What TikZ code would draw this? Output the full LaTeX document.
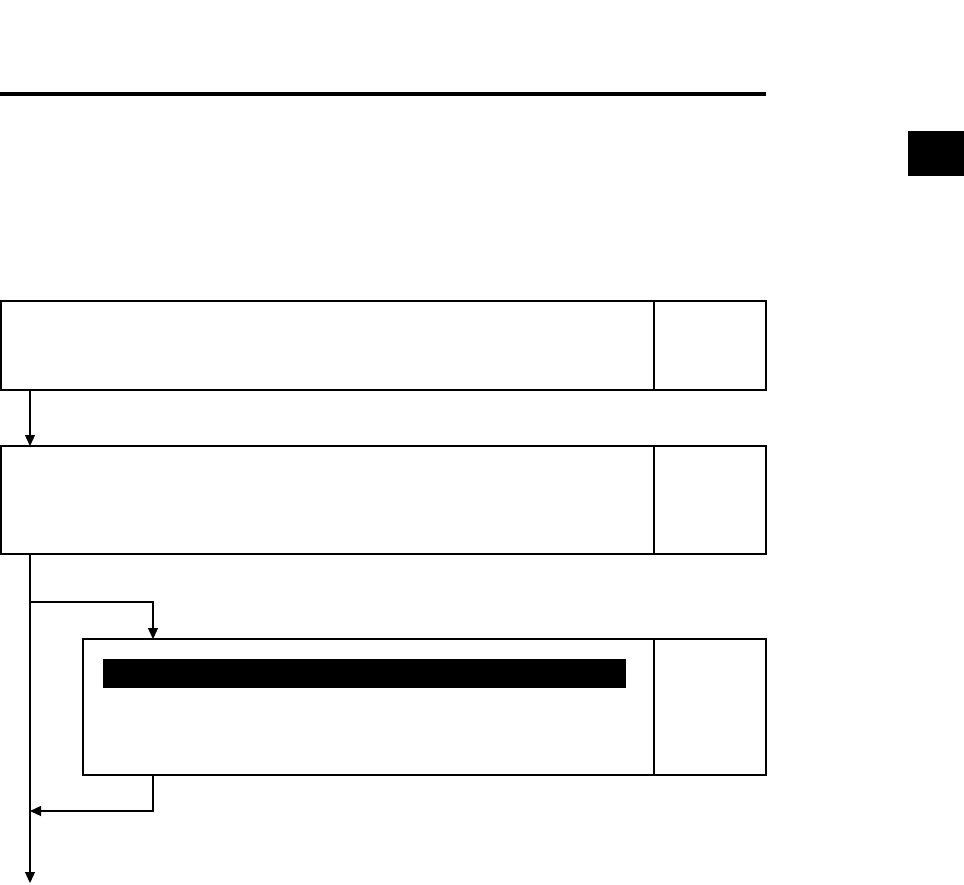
\documentclass[tikz,border=0pt]{standalone}
\usetikzlibrary{arrows.meta}
\begin{document}
\begin{tikzpicture}[x=1pt,y=-1pt,
  stepbox/.style={draw,line width=1.2pt,rectangle,anchor=north west,inner sep=0pt,outer sep=0pt},
  conn/.style={line width=1.2pt},
  arr/.style={conn,-{Triangle[length=11pt,width=10pt]}}]
\useasboundingbox (0,0) rectangle (964,884);
% top rule and tab
\fill (0,92) rectangle (766,96);
\fill (908,131) rectangle (964,176);
% boxes
\node[stepbox,minimum width=765pt,minimum height=89pt] (b1) at (1,301) {};
\node[stepbox,minimum width=765pt,minimum height=108pt] (b2) at (1,446) {};
\node[stepbox,minimum width=683pt,minimum height=136pt] (b3) at (83,639) {};
\draw[conn] (654,301) -- (654,390);
\draw[conn] (654,446) -- (654,554);
\draw[conn] (654,639) -- (654,775);
\fill (103,659) rectangle (626,688);
% connectors
\coordinate (j1) at (30,602);
\coordinate (j2) at (30,811);
\coordinate (endp) at (30,883);
\draw[arr] (b1.south west -| j1) -- (b2.north west -| j1);
\draw[conn] (b2.south west -| j1) -- (j1);
\draw[arr] (j1) -- (153,602) -- (b3.north west -| 153,0);
\draw[arr] (j1) -- (endp);
\draw[arr] (b3.south west -| 153,0) -- (153,811) -- (j2);
\end{tikzpicture}
\end{document}
